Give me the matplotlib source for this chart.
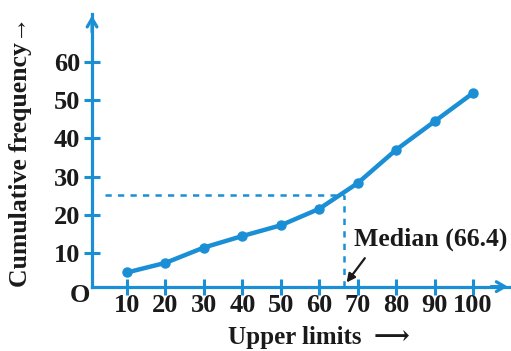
import matplotlib
matplotlib.use("Agg")
import matplotlib.pyplot as plt

upper_limits = [10, 20, 30, 40, 50, 60, 70, 80, 90, 100]
cum_freq = [5, 7.5, 11.5, 14.5, 17.3, 21.6, 28.3, 37, 44.4, 51.8]
y_ticks = [10, 20, 30, 40, 50, 60]
median_x = 66.4
median_y = 25.2

BLUE = "#1b8fd5"
INK = "#1a1a1a"
FONT = ["Liberation Serif", "DejaVu Serif", "DejaVu Sans"]
plt.rcParams["font.family"] = FONT
plt.rcParams["font.weight"] = "bold"

fig = plt.figure(figsize=(5.11, 3.51), dpi=100)
ax = fig.add_axes([0, 0, 1, 1])
ax.set_xlim(-23.05, 109.9)
ax.set_ylim(-15.5, 76.1)

x0, y0 = 0.9, 1.3
for s in ["top", "right"]:
    ax.spines[s].set_visible(False)
ax.spines["left"].set_position(("data", x0))
ax.spines["bottom"].set_position(("data", y0))
ax.spines["left"].set_bounds(y0, 72.5)
ax.spines["bottom"].set_bounds(x0, 109.6)
for s in ["left", "bottom"]:
    ax.spines[s].set_color(BLUE)
    ax.spines[s].set_linewidth(2.3)

ax.set_xticks(upper_limits)
ax.set_yticks(y_ticks)
ax.set_xticklabels([str(v) for v in upper_limits])
ax.set_yticklabels([str(v) for v in y_ticks])
ax.tick_params(axis="both", direction="inout", length=11, width=2.2, color=BLUE,
               labelsize=19, labelcolor=INK)
ax.tick_params(axis="x", pad=0)
ax.tick_params(axis="y", pad=3)
for lab in ax.get_xticklabels() + ax.get_yticklabels():
    lab.set_fontweight("bold")

# chevron arrow heads on axes
ax.annotate("", xy=(109.8, y0), xytext=(104, y0),
            arrowprops=dict(arrowstyle="->,head_length=0.6,head_width=0.35", color=BLUE, lw=2.3))
ax.annotate("", xy=(x0, 72.8), xytext=(x0, 67),
            arrowprops=dict(arrowstyle="->,head_length=0.6,head_width=0.35", color=BLUE, lw=2.3))

# median guide lines
ax.plot([4.3, median_x], [median_y, median_y], color=BLUE, lw=1.8, ls=(0, (2.5, 2.5)))
ax.plot([median_x, median_x], [y0, median_y], color=BLUE, lw=1.8, ls=(0, (2.5, 2.5)))

# ogive
ax.plot(upper_limits, cum_freq, color=BLUE, lw=3.2, marker="o", markersize=6.5,
        solid_joinstyle="round", solid_capstyle="round", zorder=5)

ax.text(0.3, -1.0, "O", fontsize=19, fontweight="bold", ha="right", va="center", color=INK)
ax.text(60, -12.0, "Upper limits  \u27f6", fontsize=18, fontweight="bold", ha="center",
        va="center", color=INK)
ax.text(-17.8, 36.5, "Cumulative frequency\u2192", fontsize=18.5, fontweight="bold",
        rotation=90, ha="center", va="center", color=INK)
ax.text(69.1, 13.7, "Median (66.4)", fontsize=18.5, fontweight="bold", ha="left",
        va="center", color=INK)
ax.annotate("", xy=(median_x + 0.3, 1.8), xytext=(72.3, 9.3),
            arrowprops=dict(arrowstyle="-|>,head_length=0.5,head_width=0.25", color=INK, lw=1.6))

fig.savefig("out.png", dpi=100)
